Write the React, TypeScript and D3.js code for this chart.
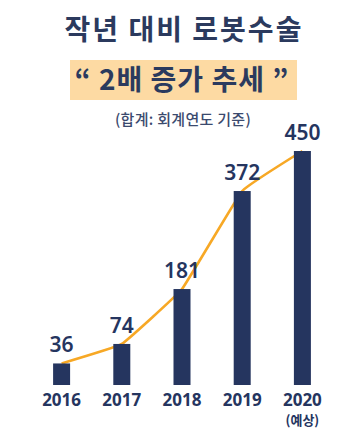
import React from "react";
import * as d3 from "d3";

const years = ["2016", "2017", "2018", "2019", "2020"];
const values = [36, 74, 181, 372, 450];
const yearNotes = ["", "", "", "", "(예상)"];
const title = "작년 대비 로봇수술";
const subtitle = "“ 2배 증가 추세 ”";
const note = "(합계: 회계연도 기준)";

const W = 358;
const H = 438;
const NAVY = "#25355F";
const ORANGE = "#F7A825";
const HIGHLIGHT = "#FDDAA3";
const FONT = "'Noto Sans CJK KR', 'Noto Sans', sans-serif";
const NUMFONT = "'Noto Sans', 'Open Sans', sans-serif";

export default function App() {
  const x = d3.scalePoint<string>().domain(years).range([31.5, 332.5]).padding(0.5);
  const y = d3.scaleLinear().domain([-6, 450]).range([385, 151]);
  const barW = 17;
  const pts: [number, number][] = years.map((yr, i) => [x(yr)!, y(values[i])]);
  const line = d3.line().curve(d3.curveCardinal.tension(0.75))(pts) || "";

  return (
    <svg
      width={W}
      height={H}
      style={{ position: "absolute", left: 0, top: 0, background: "#fff" }}
      fontFamily={FONT}
    >
      <text x={184} y={40} textAnchor="middle" fontSize={28} fontWeight={700} fill="#2B3A5E" letterSpacing={2}>
        {title}
      </text>
      <rect x={70} y={60} width={227} height={40} fill={HIGHLIGHT} />
      <text x={182} y={90} textAnchor="middle" fontSize={28} fontWeight={700} fill="#2B3A5E" letterSpacing={1}>
        {subtitle}
      </text>
      <text x={183} y={125} textAnchor="middle" fontSize={15} fontWeight={500} fill="#3B4A6E" letterSpacing={0.3}>
        {note}
      </text>

      <path d={line} fill="none" stroke={ORANGE} strokeWidth={2.6} />

      {years.map((yr, i) => (
        <rect
          key={yr}
          x={x(yr)! - barW / 2}
          y={y(values[i])}
          width={barW}
          height={y(-6) - y(values[i])}
          fill={NAVY}
        />
      ))}

      {years.map((yr, i) => (
        <text
          key={"v" + yr}
          x={x(yr)!}
          y={y(values[i]) - 11}
          textAnchor="middle"
          fontSize={21}
          fontWeight={600}
          fontFamily={NUMFONT}
          fill={NAVY}
        >
          {values[i]}
        </text>
      ))}

      {years.map((yr, i) => (
        <text
          key={"t" + yr}
          x={x(yr)!}
          y={406}
          textAnchor="middle"
          fontSize={17}
          fontWeight={700}
          fontFamily={NUMFONT}
          fill={NAVY}
        >
          {yr}
        </text>
      ))}
      {years.map((yr, i) =>
        yearNotes[i] ? (
          <text
            key={"n" + yr}
            x={x(yr)!}
            y={425}
            textAnchor="middle"
            fontSize={13}
            fontWeight={700}
            fill={NAVY}
          >
            {yearNotes[i]}
          </text>
        ) : null
      )}
    </svg>
  );
}
